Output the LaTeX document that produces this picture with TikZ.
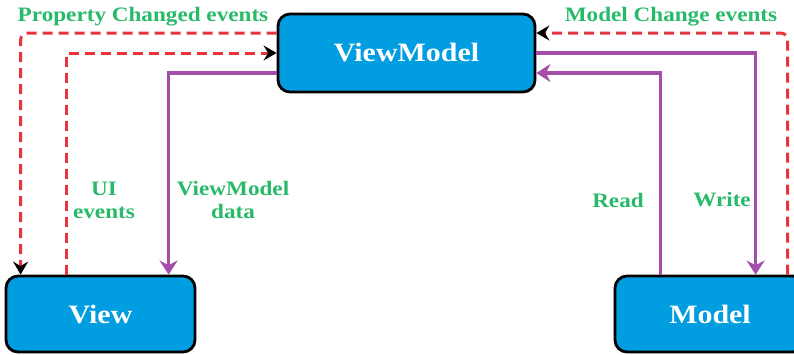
\documentclass[tikz,border=0pt]{standalone}
\usepackage{fontspec}
\setmainfont{Liberation Serif}
\newfontfamily\lblfont[FakeStretch=1.13]{Liberation Serif}
\usetikzlibrary{arrows.meta}
\definecolor{boxblue}{RGB}{0,157,224}
\definecolor{dashred}{RGB}{232,52,60}
\definecolor{purp}{RGB}{163,78,168}
\definecolor{lblgreen}{RGB}{40,185,105}
\tikzset{
  box/.style={draw=black, line width=2.8pt, fill=boxblue, rounded corners=12pt,
    text=white, font=\lblfont\bfseries\fontsize{26.5}{30}\selectfont, inner sep=0pt},
  reddash/.style={draw=dashred, line width=3pt, dash pattern=on 10pt off 6pt,
    -{Stealth[length=13pt,width=15pt,inset=4.5pt,color=black]}},
  purpline/.style={draw=purp, line width=3.4pt,
    -{Stealth[length=14pt,width=18pt,inset=4.5pt,color=purp]}},
  lbl/.style={text=lblgreen, font=\lblfont\bfseries\fontsize{20.5}{23}\selectfont,
    align=center, inner sep=0pt}
}
\begin{document}
\begin{tikzpicture}[x=1pt,y=-1pt]
\useasboundingbox (0,0) rectangle (794,354);
% boxes
\node[box, minimum width=257pt, minimum height=78pt] (vm) at (406.5,53) {ViewModel};
\node[box, minimum width=189pt, minimum height=76pt] (view) at (100.5,314) {\raisebox{-3pt}{View}};
\node[box, minimum width=190pt, minimum height=76pt] (model) at (710,314) {\raisebox{-3pt}{Model}};
% left side connectors
\draw[reddash, rounded corners=7pt] ([yshift=20pt]vm.west) -| ([xshift=16pt]view.north west);
\draw[reddash] ([xshift=62pt]view.north west) |- (vm.west);
\draw[purpline] ([yshift=-20pt]vm.west) -| ([xshift=164pt]view.north west);
% right side connectors
\draw[reddash, rounded corners=7pt] ([xshift=174pt]model.north west) |- ([yshift=20pt]vm.east);
\draw[purpline] (vm.east) -| ([xshift=142pt]model.north west);
\draw[purpline] ([xshift=47pt]model.north west) |- ([yshift=-20pt]vm.east);
% labels
\node[lbl] (lpc) at (143,17) {Property Changed events};
\node[lbl] (lmc) at (671,17) {Model Change events};
\node[lbl] (lui) at (104,200) {UI\\events};
\node[lbl] (lvd) at (233,200) {ViewModel\\data};
\node[lbl] (lrd) at (618,200) {Read};
\node[lbl] (lwr) at (722,200) {Write};
\end{tikzpicture}
\end{document}
